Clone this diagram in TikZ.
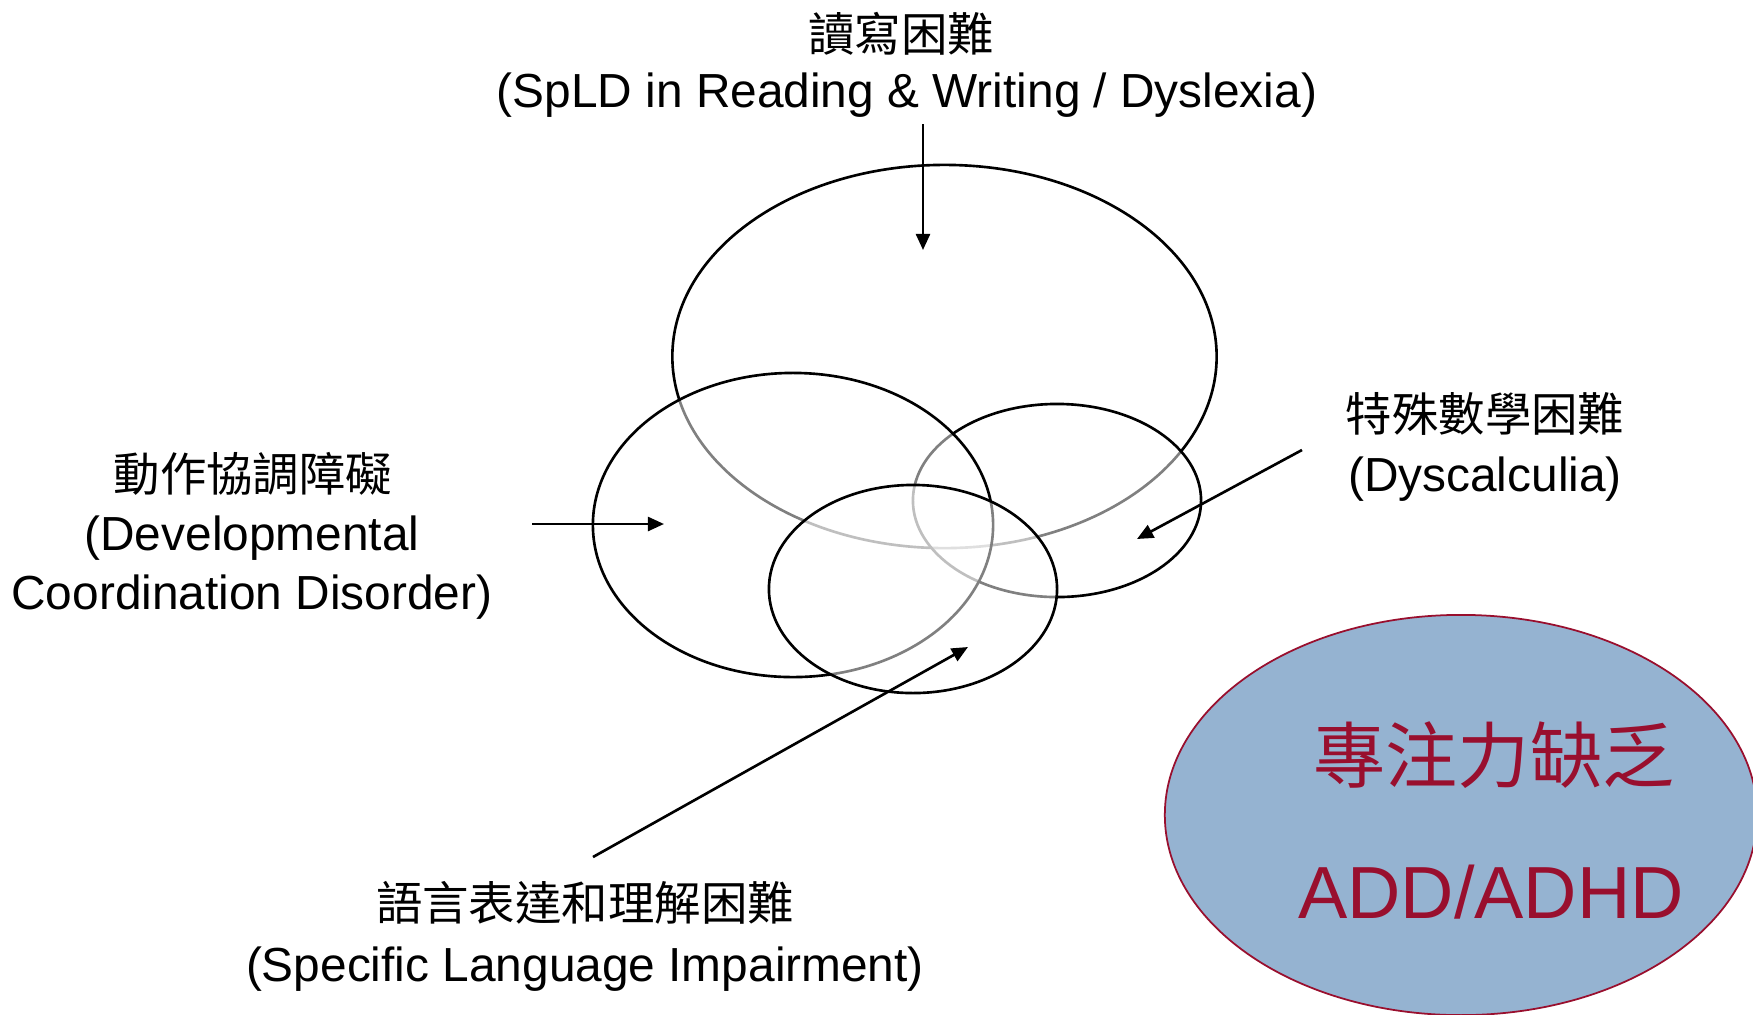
\documentclass[tikz,border=0pt]{standalone}
\usepackage{fontspec}
\setmainfont{Liberation Sans}
\newfontfamily\cjk{Noto Sans CJK TC}
\usetikzlibrary{arrows.meta,shapes.geometric}
\definecolor{adhdfill}{RGB}{149,179,209}
\definecolor{adhdred}{RGB}{153,15,46}
\begin{document}
\begin{tikzpicture}[x=0.01cm,y=-0.01cm,
  venn/.style={ellipse, draw=black, line width=0.75pt, fill=white, fill opacity=0.5, inner sep=0pt},
  enlbl/.style={anchor=base, inner sep=0pt, font=\fontsize{13.6}{16}\selectfont},
  zhlbl/.style={anchor=base, inner sep=0pt, font=\cjk\fontsize{13.2}{16}\selectfont},
  pointer/.style={draw=black, line width=0.75pt, -{Triangle[length=4.6pt,width=4pt]}},
]
\useasboundingbox (0,0) rectangle (1753,1014);
\fill[white] (0,0) rectangle (1753,1014);

% Venn ellipses (drawn in stacking order)
\node[venn, minimum width=5.44cm, minimum height=3.83cm] (read) at (944.5,356.5) {};
\node[venn, minimum width=2.88cm, minimum height=1.93cm] (calc) at (1057,500.5) {};
\node[venn, minimum width=4.00cm, minimum height=3.04cm] (dcd) at (793,525) {};
\node[venn, minimum width=2.88cm, minimum height=2.08cm] (sli) at (913,589) {};

% ADHD ellipse
\node[ellipse, draw=adhdred, line width=0.5pt, fill=adhdfill, inner sep=0pt,
      minimum width=5.92cm, minimum height=4.0cm] (adhd) at (1461,815) {};
\node[anchor=base, inner sep=0pt, text=adhdred, font=\cjk\fontsize{20.5}{24}\selectfont] (adhdzh) at (1494,782) {專注力缺乏};
\node[anchor=base, inner sep=0pt, text=adhdred, font=\fontsize{21}{24}\selectfont] (adhden) at (1491,918) {ADD/ADHD};

% Labels
\node[zhlbl] (readzh) at (901,51) {讀寫困難};
\node[enlbl] (readen) at (907,107) {(SpLD in Reading \& Writing / Dyslexia)};

\node[zhlbl] (dcdzh) at (253,491) {動作協調障礙};
\node[enlbl] (dcden1) at (252,550) {(Developmental};
\node[enlbl] (dcden2) at (252,609) {Coordination Disorder)};

\node[zhlbl] (calczh) at (1485,431) {特殊數學困難};
\node[enlbl] (calcen) at (1485,491) {(Dyscalculia)};

\node[zhlbl] (slizh) at (585,920) {語言表達和理解困難};
\node[enlbl] (slien) at (585,981) {(Specific Language Impairment)};

% Pointer arrows
\coordinate (readfrom) at (923,124);
\coordinate (readto) at (923,250);
\coordinate (dcdfrom) at (532,524);
\coordinate (dcdto) at (664,524);
\coordinate (calcfrom) at (1302,450);
\coordinate (calcto) at (1137,539);
\coordinate (slifrom) at (593,857);
\coordinate (slito) at (968,647);
\draw[pointer] (readfrom) -- (readto);
\draw[pointer] (dcdfrom) -- (dcdto);
\draw[pointer] (calcfrom) -- (calcto);
\draw[pointer] (slifrom) -- (slito);
\end{tikzpicture}
\end{document}
